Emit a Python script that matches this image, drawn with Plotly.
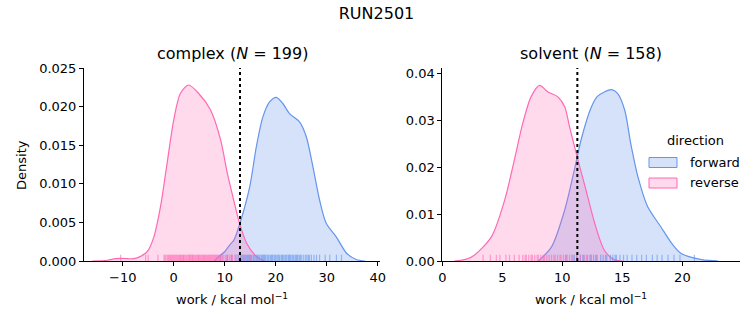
import plotly.graph_objects as go

# ---------------- data ----------------
# complex, KDE curves (work in kcal/mol, density)
cx_fwd_x = [8.0, 8.5, 10.0, 11.0, 11.8, 12.9, 14.9, 16.2, 17.5, 18.8, 20.1, 21.4, 22.7, 24.7, 26.0,
            27.3, 28.6, 29.9, 31.9, 33.9, 35.8, 37.5]
cx_fwd_y = [0.0, 0.0004, 0.0012, 0.0021, 0.0027, 0.0047, 0.0096, 0.0148, 0.0187, 0.0206, 0.0212,
            0.0204, 0.0191, 0.0180, 0.0161, 0.0122, 0.0079, 0.0049, 0.0031, 0.0010, 0.0002, 0.0]
cx_rev_x = [-16.0, -13.0, -11.5, -10.4, -9.0, -7.8, -6.5, -5.2, -3.9, -2.6, -1.3, 0.0, 1.3, 2.9,
            4.9, 7.2, 9.2, 10.5, 11.5, 12.9, 14.3, 16.2, 17.8]
cx_rev_y = [0.0, 0.0001, 0.0003, 0.00035, 0.0003, 0.0003, 0.0006, 0.0012, 0.0031, 0.0070, 0.01265,
            0.01826, 0.0217, 0.0228, 0.0217, 0.0196, 0.0157, 0.0114, 0.0086, 0.0049, 0.0023,
            0.0006, 0.0]

# solvent, KDE curves
sv_fwd_x = [8.0, 9.1, 10.2, 11.0, 11.6, 12.4, 12.9, 13.5, 14.1, 14.6, 15.2, 15.7, 16.3, 17.1, 18.2,
            19.1, 19.9, 21.6, 23.0]
sv_fwd_y = [0.0, 0.0030, 0.0109, 0.0194, 0.0262, 0.0327, 0.0350, 0.0360, 0.0365, 0.0357, 0.0321,
            0.0250, 0.0179, 0.0116, 0.0073, 0.0038, 0.0016, 0.0003, 0.0]
sv_rev_x = [1.0, 2.0, 2.7, 4.1, 5.2, 6.0, 6.7, 7.4, 8.1, 8.8, 9.6, 10.2, 10.6, 11.3, 11.9, 12.7,
            13.5, 14.3, 15.0]
sv_rev_y = [0.0, 0.0004, 0.0013, 0.0052, 0.0130, 0.0215, 0.0293, 0.0350, 0.0374, 0.0360, 0.0350,
            0.0328, 0.0286, 0.0215, 0.0158, 0.0080, 0.0023, 0.0003, 0.0]

# rug samples (estimated)
cx_fwd_rug = [9.2, 10.5, 11.4, 12.2, 12.7, 13.1, 13.4, 13.6, 13.8, 14.0, 14.3, 14.5, 14.7, 14.9,
              15.1, 15.3, 15.6, 15.8, 16.1, 16.3, 16.5, 16.7, 16.9, 17.2, 17.4, 17.6, 17.8, 18.0,
              18.3, 18.5, 18.7, 19.0, 19.2, 19.4, 19.7, 19.9, 20.1, 20.4, 20.6, 20.8, 21.1, 21.3,
              21.5, 21.8, 22.0, 22.2, 22.5, 22.7, 22.9, 23.2, 23.4, 23.6, 23.9, 24.1, 24.3, 24.6,
              24.8, 25.0, 25.4, 25.8, 26.1, 26.4, 26.6, 27.0, 27.5, 28.0, 28.6, 29.7, 30.6, 31.9,
              32.9]
cx_rev_rug = [-10.4, -5.5, -5.0, -3.1, -1.9, -1.7, -1.5, -1.2, -1.0, -0.8, -0.6, -0.4, -0.2, 0.0,
              0.2, 0.4, 0.6, 0.8, 1.0, 1.2, 1.3, 1.5, 1.7, 1.9, 2.0, 2.2, 2.4, 2.6, 2.8, 3.0, 3.1,
              3.3, 3.5, 3.7, 3.8, 4.0, 4.2, 4.4, 4.6, 4.8, 4.9, 5.1, 5.3, 5.5, 5.7, 5.9, 6.0, 6.2,
              6.4, 6.6, 6.8, 7.0, 7.2, 7.4, 7.6, 7.8, 8.0, 8.2, 8.4, 8.6, 8.8, 9.0, 9.2, 9.5, 9.7,
              10.1, 10.4, 10.6, 11.0, 11.3, 11.5, 12.0, 12.6, 13.2, 14.0, 15.0]
sv_fwd_rug = [10.3, 10.8, 11.0, 11.2, 11.5, 11.7, 11.8, 12.1, 12.3, 12.4, 12.6, 12.8, 12.9, 13.2,
              13.4, 13.6, 13.7, 14.0, 14.2, 14.4, 14.5, 14.8, 15.1, 15.4, 15.8, 16.2, 16.6, 17.0,
              17.5, 17.9, 18.3, 18.8, 19.3, 19.8, 21.0]
sv_rev_rug = [3.4, 4.0, 4.5, 4.8, 5.3, 5.6, 6.0, 6.4, 6.7, 6.9, 7.0, 7.2, 7.4, 7.5, 7.7, 7.9, 8.0,
              8.2, 8.4, 8.5, 8.7, 8.9, 9.1, 9.3, 9.4, 9.6, 9.8, 9.9, 10.1, 10.3, 10.4, 10.6, 10.9,
              11.2, 11.5, 11.8, 12.0, 12.4, 12.8]

cx_mid = 13.0
sv_mid = 11.25

legend_labels = ["forward", "reverse"]

# ---------------- styling ----------------
BLUE = "#6495ED"
PINK = "#FF69B4"
BLUE_FILL = "rgba(100,149,237,0.27)"
PINK_FILL = "rgba(255,105,180,0.25)"
FONT = "DejaVu Sans"
W, H = 753, 325

fig = go.Figure()

def add_panel(xa, ya, fx, fy, rx, ry, frug, rrug, ymax):
    fig.add_trace(go.Scatter(x=fx, y=fy, mode="lines", line=dict(color=BLUE, width=1.2, shape="spline", smoothing=0.8),
                             fill="tozeroy", fillcolor=BLUE_FILL, name="forward",
                             showlegend=False, xaxis=xa, yaxis=ya))
    fig.add_trace(go.Scatter(x=rx, y=ry, mode="lines", line=dict(color=PINK, width=1.2, shape="spline", smoothing=0.8),
                             fill="tozeroy", fillcolor=PINK_FILL, name="reverse",
                             showlegend=False, xaxis=xa, yaxis=ya))
    h = 0.033 * ymax
    for vals, col in ((frug, "rgba(100,149,237,0.6)"), (rrug, "rgba(255,105,180,0.6)")):
        xs, ys = [], []
        for v in vals:
            xs += [v, v, None]
            ys += [0, h, None]
        fig.add_trace(go.Scatter(x=xs, y=ys, mode="lines", line=dict(color=col, width=1.2),
                                 showlegend=False, hoverinfo="skip", xaxis=xa, yaxis=ya))

add_panel("x", "y", cx_fwd_x, cx_fwd_y, cx_rev_x, cx_rev_y, cx_fwd_rug, cx_rev_rug, 0.025)
add_panel("x2", "y2", sv_fwd_x, sv_fwd_y, sv_rev_x, sv_rev_y, sv_fwd_rug, sv_rev_rug, 0.0411)

y0, y1 = 1 - 261 / H, 1 - 68 / H
axis_common = dict(showline=True, linecolor="black", linewidth=1, ticks="outside", ticklen=4,
                   tickcolor="black", tickwidth=1, showgrid=False, zeroline=False, mirror=False,
                   automargin=False, tickfont=dict(family=FONT, size=13, color="black"))

fig.update_layout(
    template="none",
    width=W, height=H, margin=dict(l=0, r=0, t=0, b=0, pad=0), autosize=False,
    paper_bgcolor="white", plot_bgcolor="white",
    font=dict(family=FONT, size=13, color="black"),
    title=dict(text="RUN2501", x=0.5, xanchor="center", y=1 - 13 / H, yanchor="middle",
               font=dict(family=FONT, size=16, color="black")),
    xaxis=dict(domain=[84 / W, 380 / W], range=[-17.59, 40.45], dtick=10, anchor="y", **axis_common),
    yaxis=dict(domain=[y0, y1], range=[0, 0.025], dtick=0.005, tickformat=".3f", anchor="x", **axis_common),
    xaxis2=dict(domain=[442.3 / W, 740 / W], range=[0, 24.8], dtick=5, anchor="y2", **axis_common),
    yaxis2=dict(domain=[y0, y1], range=[0, 0.0411], dtick=0.01, tickformat=".2f", anchor="x2", **axis_common),
    showlegend=False,
)

# dotted vertical lines
fig.add_shape(type="line", xref="x", yref="y domain", x0=cx_mid, x1=cx_mid, y0=0, y1=1,
              line=dict(color="black", width=2, dash="dot"))
fig.add_shape(type="line", xref="x2", yref="y2 domain", x0=sv_mid, x1=sv_mid, y0=0, y1=1,
              line=dict(color="black", width=2, dash="dot"))

# legend (drawn as patches, matplotlib style)
for i, (lab, fc, lc) in enumerate(zip(legend_labels, [BLUE_FILL, PINK_FILL], [BLUE, PINK])):
    yc = 162.5 + 20.5 * i
    fig.add_shape(type="rect", xref="paper", yref="paper", x0=649 / W, x1=677 / W,
                  y0=1 - (yc + 5) / H, y1=1 - (yc - 5) / H, fillcolor=fc, line=dict(color=lc, width=1))
    fig.add_annotation(text=lab, x=688 / W, y=1 - yc / H, xref="paper", yref="paper",
                       xanchor="left", yanchor="middle", showarrow=False,
                       font=dict(family=FONT, size=13, color="black"))
fig.add_annotation(text="direction", x=695 / W, y=1 - 141 / H, xref="paper", yref="paper",
                   xanchor="center", yanchor="middle", showarrow=False,
                   font=dict(family=FONT, size=13, color="black"))

# subplot titles and axis labels
ann = [
    dict(text="complex (<i>N</i> = 199)", x=232 / W, y=1 - 54 / H, size=16, angle=0),
    dict(text="solvent (<i>N</i> = 158)", x=591 / W, y=1 - 54 / H, size=16, angle=0),
    dict(text="work / kcal mol<sup>\u22121</sup>", x=232 / W, y=1 - 299 / H, size=13, angle=0),
    dict(text="work / kcal mol<sup>\u22121</sup>", x=591 / W, y=1 - 299 / H, size=13, angle=0),
    dict(text="Density", x=21 / W, y=1 - 165 / H, size=13, angle=-90),
]
for a in ann:
    fig.add_annotation(text=a["text"], x=a["x"], y=a["y"], xref="paper", yref="paper",
                       xanchor="center", yanchor="middle", showarrow=False, textangle=a["angle"],
                       font=dict(family=FONT, size=a["size"], color="black"))

fig.write_html("out.html")
